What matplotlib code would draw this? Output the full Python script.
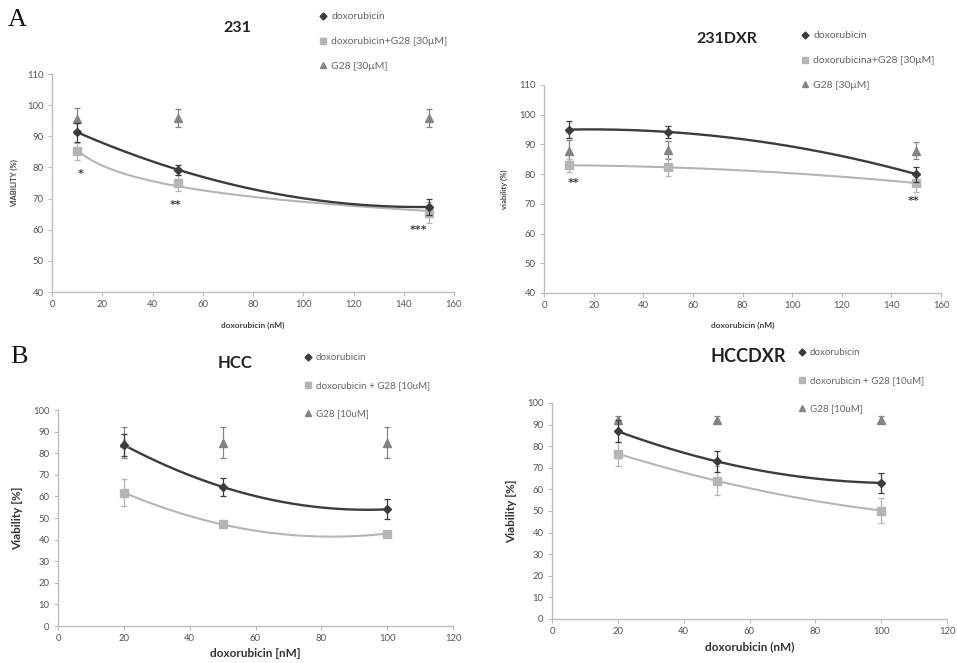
import numpy as np
import matplotlib
matplotlib.use("Agg")
import matplotlib.pyplot as plt
from matplotlib.lines import Line2D

plt.rcParams['font.family'] = ['Lato', 'DejaVu Sans']

W, H = 957, 663

# ---------------- data ----------------
# 231
x_231 = [10, 50, 150]
dox_231 = [91.3, 79.3, 67.3]
dox_231_err = [3.0, 1.6, 2.6]
combo_231 = [85.2, 75.0, 65.4]
combo_231_err = [2.7, 2.7, 3.4]
g28_231 = [95.5, 95.9, 95.9]
g28_231_err = [3.5, 3.0, 3.0]

# 231DXR
x_231dxr = [10, 50, 150]
dox_231dxr = [95.0, 94.2, 80.0]
dox_231dxr_err = [3.0, 2.0, 2.5]
combo_231dxr = [83.0, 82.3, 77.0]
combo_231dxr_err = [2.2, 3.0, 3.0]
g28_231dxr = [87.9, 88.2, 87.9]
g28_231dxr_err = [3.5, 3.0, 2.8]

# HCC
x_hcc = [20, 50, 100]
dox_hcc = [83.8, 64.4, 54.0]
dox_hcc_err = [5.0, 4.0, 4.6]
combo_hcc = [61.8, 47.0, 42.8]
combo_hcc_err = [6.4, 0.0, 0.0]
g28_hcc = [84.9, 84.9, 84.9]
g28_hcc_err = [7.0, 7.0, 7.0]

# HCCDXR
x_hccdxr = [20, 50, 100]
dox_hccdxr = [86.9, 73.0, 63.0]
dox_hccdxr_err = [5.0, 5.0, 4.8]
combo_hccdxr = [76.5, 64.0, 50.2]
combo_hccdxr_err = [5.5, 6.7, 5.7]
g28_hccdxr = [92.3, 92.3, 92.3]
g28_hccdxr_err = [1.8, 1.5, 1.5]

C_DOX = '#3c3c3c'
C_COMBO = '#b5b5b5'
C_G28 = '#848484'
C_AX = '#bdbdbd'
C_TICK = '#555555'

fig = plt.figure(figsize=(W / 100, H / 100), dpi=100)


def px_axes(x0, y0, x1, y1):
    return fig.add_axes([x0 / W, 1 - y1 / H, (x1 - x0) / W, (y1 - y0) / H])


def quad_curve(x, y):
    c = np.polyfit(x, y, 2)
    xs = np.linspace(min(x), max(x), 200)
    return xs, np.polyval(c, xs)


def log_curve(x, y):
    c = np.polyfit(np.log(x), y, 1)
    xs = np.linspace(min(x), max(x), 200)
    return xs, np.polyval(c, np.log(xs))


def panel(ax, x, dox, dox_e, combo, combo_e, g28, g28_e, combo_fit,
          xlim, xstep, ylim, ystep):
    for sp in ['top', 'right']:
        ax.spines[sp].set_visible(False)
    for sp in ['left', 'bottom']:
        ax.spines[sp].set_color(C_AX)
        ax.spines[sp].set_linewidth(1.0)
    ax.tick_params(direction='out', length=3, width=0.8, color=C_AX,
                   labelsize=6.8, labelcolor=C_TICK, pad=3)
    ax.set_xlim(*xlim)
    ax.set_ylim(*ylim)
    ax.set_xticks(np.arange(xlim[0], xlim[1] + 1, xstep))
    ax.set_yticks(np.arange(ylim[0], ylim[1] + 1, ystep))

    xs, ys = quad_curve(x, dox)
    ax.plot(xs, ys, color=C_DOX, lw=1.7, zorder=3)
    xs, ys = combo_fit(x, combo)
    ax.plot(xs, ys, color=C_COMBO, lw=1.5, zorder=2)

    kw = dict(linestyle='none', capsize=2.2, elinewidth=0.9, capthick=0.9)
    ax.errorbar(x, g28, yerr=g28_e, marker='^', ms=5.5, color=C_G28, zorder=4, **kw)
    ax.errorbar(x, combo, yerr=combo_e, marker='s', ms=5.5, color=C_COMBO, zorder=4, **kw)
    ax.errorbar(x, dox, yerr=dox_e, marker='D', ms=4, color=C_DOX, zorder=5, **kw)


def legend(ax, labels, x, y, spacing, size):
    handles = [
        Line2D([], [], ls='none', marker='D', ms=3.5, color=C_DOX),
        Line2D([], [], ls='none', marker='s', ms=4.5, color=C_COMBO),
        Line2D([], [], ls='none', marker='^', ms=4.5, color=C_G28),
    ]
    ax.legend(handles, labels, loc='upper left',
              bbox_to_anchor=(x / W, 1 - y / H), bbox_transform=fig.transFigure,
              frameon=False, fontsize=size, labelcolor='#666666',
              handlelength=0.6, handletextpad=0.5, labelspacing=spacing,
              borderpad=0, borderaxespad=0)


def stars(ax, items):
    for xv, yv, s in items:
        ax.text(xv, yv, s, ha='center', va='center', fontsize=8,
                family=['DejaVu Sans'], fontweight='bold', color=C_DOX)


# ---- 231 ----
ax1 = px_axes(52, 74, 454, 292)
panel(ax1, x_231, dox_231, dox_231_err, combo_231, combo_231_err,
      g28_231, g28_231_err, log_curve, (0, 160), 20, (40, 110), 10)
ax1.set_xlabel('doxorubicin (nM)', fontsize=6, fontweight='bold', color='#444444')
ax1.xaxis.set_label_coords(0.5, -0.135)
ax1.set_ylabel('VIABILITY (%)', fontsize=5.5, fontweight='bold', color='#444444')
ax1.yaxis.set_label_coords(-0.085, 0.5)
stars(ax1, [(11.5, 78, '*'), (49, 68, '**'), (146, 60, '***')])
legend(ax1, ['doxorubicin', 'doxorubicin+G28 [30μM]', 'G28 [30μM]'], 320, 12, 1.5, 7.5)
fig.text(237 / W, 1 - 28 / H, '231', ha='center', va='center',
         fontsize=11.5, fontweight='bold', color='#222222')

# ---- 231DXR ----
ax2 = px_axes(544, 85, 941, 293)
panel(ax2, x_231dxr, dox_231dxr, dox_231dxr_err, combo_231dxr, combo_231dxr_err,
      g28_231dxr, g28_231dxr_err, quad_curve, (0, 160), 20, (40, 110), 10)
ax2.set_xlabel('doxorubicin (nM)', fontsize=6, fontweight='bold', color='#444444')
ax2.xaxis.set_label_coords(0.5, -0.14)
ax2.set_ylabel('viability (%)', fontsize=5.5, fontweight='bold', color='#444444')
ax2.yaxis.set_label_coords(-0.09, 0.5)
stars(ax2, [(12, 77, '**'), (149, 71, '**')])
legend(ax2, ['doxorubicin', 'doxorubicina+G28 [30μM]', 'G28 [30μM]'], 802, 31, 1.5, 7.5)
fig.text(727 / W, 1 - 39 / H, '231DXR', ha='center', va='center',
         fontsize=11.5, fontweight='bold', color='#222222')

# ---- HCC ----
ax3 = px_axes(58, 410, 453, 626)
panel(ax3, x_hcc, dox_hcc, dox_hcc_err, combo_hcc, combo_hcc_err,
      g28_hcc, g28_hcc_err, quad_curve, (0, 120), 20, (0, 100), 10)
ax3.set_xlabel('doxorubicin [nM]', fontsize=8.5, fontweight='bold', color='#333333')
ax3.xaxis.set_label_coords(0.5, -0.1)
ax3.set_ylabel('Viability [%]', fontsize=8.5, fontweight='bold', color='#333333')
ax3.yaxis.set_label_coords(-0.088, 0.5)
legend(ax3, ['doxorubicin', 'doxorubicin + G28 [10uM]', 'G28 [10uM]'], 305, 353, 1.95, 7)
fig.text(235 / W, 1 - 363 / H, 'HCC', ha='center', va='center',
         fontsize=12, fontweight='bold', color='#222222')

# ---- HCCDXR ----
ax4 = px_axes(552, 403, 947, 619)
panel(ax4, x_hccdxr, dox_hccdxr, dox_hccdxr_err, combo_hccdxr, combo_hccdxr_err,
      g28_hccdxr, g28_hccdxr_err, quad_curve, (0, 120), 20, (0, 100), 10)
ax4.set_xlabel('doxorubicin (nM)', fontsize=8.5, fontweight='bold', color='#333333')
ax4.xaxis.set_label_coords(0.5, -0.105)
ax4.set_ylabel('Viability [%]', fontsize=8.5, fontweight='bold', color='#333333')
ax4.yaxis.set_label_coords(-0.088, 0.5)
legend(ax4, ['doxorubicin', 'doxorubicin + G28 [10uM]', 'G28 [10uM]'], 799, 348, 1.95, 7)
fig.text(748 / W, 1 - 357 / H, 'HCCDXR', ha='center', va='center',
         fontsize=13, fontweight='bold', color='#222222')

# panel letters
fig.text(8 / W, 1 - 20 / H, 'A', ha='left', va='center', fontsize=19,
         family=['Liberation Serif', 'DejaVu Serif'], color='#111111')
fig.text(10 / W, 1 - 357 / H, 'B', ha='left', va='center', fontsize=19,
         family=['Liberation Serif', 'DejaVu Serif'], color='#111111')

fig.savefig('out.png', dpi=100)
